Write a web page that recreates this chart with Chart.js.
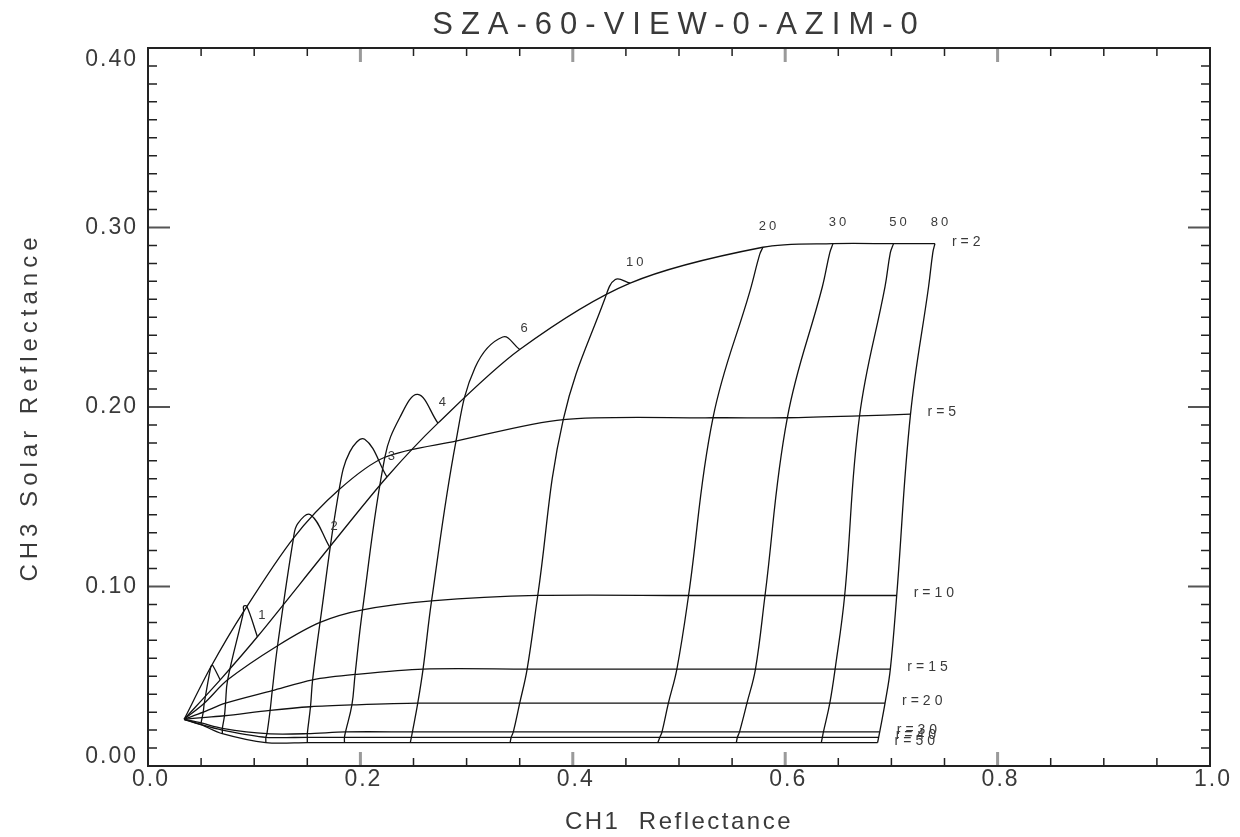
<!DOCTYPE html>
<html>
<head>
<meta charset="utf-8">
<script src="https://cdn.jsdelivr.net/npm/chart.js@4.4.1/dist/chart.umd.min.js"></script>
<style>
  body { margin: 0; background: #fff; }
  #wrap { width: 1240px; height: 837px; }
</style>
</head>
<body>
<div id="wrap"><canvas id="lutChart"></canvas></div>
<script>
// lookup table columns (optical thickness) and rows (effective radius)
const tauValues = [0, 0.5, 1, 2, 3, 4, 6, 10, 20, 30, 50, 80];
const tauLabels = ["", "", "1", "2", "3", "4", "6", "10", "20", "30", "50", "80"];
const radii = [2, 3, 4, 5, 10, 15, 20, 30, 40, 50];
const radiusLabels = ["r=2", "", "", "r=5", "r=10", "r=15", "r=20", "r=30", "r=40", "r=50"];

const xTickLabels = ["0.0", "0.2", "0.4", "0.6", "0.8", "1.0"];
const yTickLabels = ["0.00", "0.10", "0.20", "0.30", "0.40"];

// CH1 reflectance (x) and CH3 solar reflectance (y), one value per tau
const ch1_r2 = [0.034, 0.068, 0.103, 0.171, 0.225, 0.273, 0.350, 0.454, 0.579, 0.645, 0.702, 0.741];
const ch3_r2 = [0.026, 0.048, 0.072, 0.122, 0.161, 0.191, 0.232, 0.269, 0.289, 0.291, 0.291, 0.291];
const ch1_r3 = [0.034, 0.061, 0.093, 0.153, 0.204, 0.254, 0.334, 0.440, 0.576, 0.642, 0.699, 0.739];
const ch3_r3 = [0.026, 0.056, 0.089, 0.140, 0.182, 0.207, 0.239, 0.271, 0.285, 0.286, 0.286, 0.286];
const ch1_r4 = [0.034, 0.060, 0.090, 0.141, 0.190, 0.237, 0.308, 0.430, 0.567, 0.635, 0.694, 0.735];
const ch3_r4 = [0.026, 0.056, 0.089, 0.135, 0.175, 0.194, 0.222, 0.260, 0.265, 0.267, 0.267, 0.267];
const ch1_r5 = [0.034, 0.059, 0.090, 0.137, 0.180, 0.223, 0.290, 0.391, 0.532, 0.602, 0.670, 0.718];
const ch3_r5 = [0.026, 0.055, 0.086, 0.127, 0.154, 0.172, 0.181, 0.193, 0.194, 0.194, 0.195, 0.196];
const ch1_r10 = [0.034, 0.053, 0.075, 0.122, 0.162, 0.202, 0.267, 0.367, 0.509, 0.581, 0.656, 0.705];
const ch3_r10 = [0.026, 0.035, 0.048, 0.067, 0.080, 0.087, 0.092, 0.095, 0.095, 0.095, 0.095, 0.095];
const ch1_r15 = [0.034, 0.052, 0.073, 0.117, 0.155, 0.195, 0.259, 0.357, 0.498, 0.572, 0.647, 0.699];
const ch3_r15 = [0.026, 0.030, 0.035, 0.042, 0.048, 0.051, 0.054, 0.054, 0.054, 0.054, 0.054, 0.054];
const ch1_r20 = [0.034, 0.051, 0.072, 0.115, 0.153, 0.192, 0.254, 0.350, 0.490, 0.564, 0.642, 0.694];
const ch3_r20 = [0.026, 0.027, 0.028, 0.031, 0.033, 0.034, 0.035, 0.035, 0.035, 0.035, 0.035, 0.035];
const ch1_r30 = [0.034, 0.050, 0.070, 0.112, 0.150, 0.186, 0.249, 0.344, 0.484, 0.557, 0.636, 0.689];
const ch3_r30 = [0.026, 0.024, 0.021, 0.018, 0.018, 0.019, 0.019, 0.019, 0.019, 0.019, 0.019, 0.019];
const ch1_r40 = [0.034, 0.050, 0.070, 0.111, 0.150, 0.185, 0.248, 0.342, 0.482, 0.555, 0.635, 0.688];
const ch3_r40 = [0.026, 0.023, 0.020, 0.016, 0.016, 0.016, 0.016, 0.016, 0.016, 0.016, 0.016, 0.016];
const ch1_r50 = [0.034, 0.050, 0.070, 0.111, 0.150, 0.185, 0.247, 0.341, 0.480, 0.554, 0.634, 0.687];
const ch3_r50 = [0.026, 0.023, 0.018, 0.013, 0.013, 0.013, 0.013, 0.013, 0.013, 0.013, 0.013, 0.013];

const ch1Rows = [ch1_r2, ch1_r3, ch1_r4, ch1_r5, ch1_r10, ch1_r15, ch1_r20, ch1_r30, ch1_r40, ch1_r50];
const ch3Rows = [ch3_r2, ch3_r3, ch3_r4, ch3_r5, ch3_r10, ch3_r15, ch3_r20, ch3_r30, ch3_r40, ch3_r50];

const lineStyle = {
    showLine: true,
    pointRadius: 0,
    borderColor: "#111",
    borderWidth: 1.3,
    fill: false
};

let datasets = [];

// lines of constant radius (only the labelled ones are drawn)
radii.forEach((r, i) => {
    if (!radiusLabels[i]) return;
    datasets.push(Object.assign({
        label: radiusLabels[i],
        data: tauValues.map((t, j) => ({ x: ch1Rows[i][j], y: ch3Rows[i][j] })),
        tension: 0.3
    }, lineStyle));
});

// lines of constant optical thickness
tauValues.forEach((t, j) => {
    if (t === 0) return;
    datasets.push(Object.assign({
        label: "tau=" + t,
        data: radii.map((r, i) => ({ x: ch1Rows[i][j], y: ch3Rows[i][j] })),
        tension: 0.4
    }, lineStyle));
});

const textColor = "#3a3a3a";
const fontName = "'Liberation Sans', Arial, sans-serif";

// box, inward ticks, tick labels, titles and curve labels in IDL style
const idlFrame = {
    id: "idlFrame",
    afterDatasetsDraw(chart) {
        const ctx = chart.ctx;
        const a = chart.chartArea;
        const xs = chart.scales.x;
        const ys = chart.scales.y;
        ctx.save();

        // ticks
        for (let i = 1; i < 20; i++) {
            const px = xs.getPixelForValue(i * 0.05);
            const major = i % 4 === 0;
            ctx.strokeStyle = major ? "#9a9a9a" : "#222";
            ctx.lineWidth = major ? 3 : 1.5;
            const len = major ? 14 : 8;
            ctx.beginPath();
            ctx.moveTo(px, a.bottom); ctx.lineTo(px, a.bottom - len);
            ctx.moveTo(px, a.top); ctx.lineTo(px, a.top + len);
            ctx.stroke();
        }
        for (let i = 1; i < 40; i++) {
            const py = ys.getPixelForValue(i * 0.01);
            const major = i % 10 === 0;
            ctx.strokeStyle = major ? "#555" : "#222";
            ctx.lineWidth = major ? 2 : 1.5;
            const len = major ? 22 : 9;
            ctx.beginPath();
            ctx.moveTo(a.left, py); ctx.lineTo(a.left + len, py);
            ctx.moveTo(a.right, py); ctx.lineTo(a.right - len, py);
            ctx.stroke();
        }

        // box
        ctx.strokeStyle = "#222";
        ctx.lineWidth = 2;
        ctx.strokeRect(a.left, a.top, a.right - a.left, a.bottom - a.top);

        // tick labels
        ctx.fillStyle = textColor;
        ctx.font = "23px " + fontName;
        ctx.letterSpacing = "2px";
        ctx.textAlign = "center";
        ctx.textBaseline = "middle";
        xTickLabels.forEach(lab => {
            ctx.fillText(lab, xs.getPixelForValue(parseFloat(lab)) + 3, a.bottom + 14);
        });
        ctx.textAlign = "right";
        yTickLabels.forEach(lab => {
            let py = ys.getPixelForValue(parseFloat(lab));
            py = Math.min(Math.max(py, a.top + 12), a.bottom - 9);
            ctx.fillText(lab, a.left - 10, py);
        });

        // titles
        ctx.textAlign = "center";
        ctx.font = "31px " + fontName;
        ctx.letterSpacing = "8px";
        ctx.fillText("SZA-60-VIEW-0-AZIM-0", (a.left + a.right) / 2, 25);
        ctx.font = "24px " + fontName;
        ctx.letterSpacing = "2.5px";
        ctx.fillText("CH1  Reflectance", (a.left + a.right) / 2, 822);
        ctx.save();
        ctx.translate(30, (a.top + a.bottom) / 2);
        ctx.rotate(-Math.PI / 2);
        ctx.letterSpacing = "5px";
        ctx.fillText("CH3 Solar Reflectance", 0, 0);
        ctx.restore();

        // tau labels at the r=2 end of each tau line
        ctx.font = "13px " + fontName;
        ctx.letterSpacing = "3px";
        ctx.textAlign = "center";
        tauLabels.forEach((lab, j) => {
            if (!lab) return;
            const px = xs.getPixelForValue(ch1_r2[j]);
            const py = ys.getPixelForValue(ch3_r2[j]);
            ctx.fillText(lab, px + 6, py - 21);
        });

        // radius labels at the thick end of each radius line
        ctx.font = "14px " + fontName;
        ctx.letterSpacing = "4px";
        ctx.textAlign = "left";
        radiusLabels.forEach((lab, i) => {
            if (!lab) return;
            const last = tauValues.length - 1;
            const px = xs.getPixelForValue(ch1Rows[i][last]);
            const py = ys.getPixelForValue(ch3Rows[i][last]);
            ctx.fillText(lab, px + 17, py - 2);
        });

        ctx.restore();
    }
};

new Chart(document.getElementById("lutChart").getContext("2d"), {
    type: "scatter",
    data: { datasets: datasets },
    options: {
        responsive: true,
        maintainAspectRatio: false,
        animation: false,
        layout: { padding: { left: 148, right: 30, top: 48, bottom: 71 } },
        scales: {
            x: { type: "linear", min: 0, max: 1, display: false },
            y: { type: "linear", min: 0, max: 0.4, display: false }
        },
        plugins: {
            legend: { display: false },
            tooltip: { enabled: false }
        }
    },
    plugins: [idlFrame]
});
</script>
</body>
</html>
